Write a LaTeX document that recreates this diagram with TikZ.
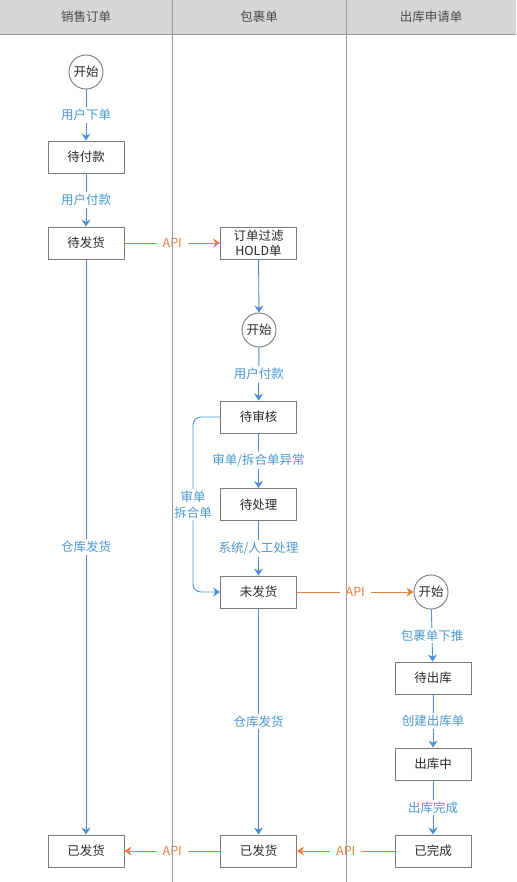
\documentclass[tikz,border=0pt]{standalone}
\usepackage{fontspec}
\setmainfont{Noto Sans CJK SC}
\usetikzlibrary{arrows.meta}
\definecolor{headgray}{HTML}{D6D6D6}
\definecolor{lanegray}{HTML}{9A9A9A}
\definecolor{boxgray}{HTML}{7A7A7A}
\definecolor{flowblue}{HTML}{4A90D6}
\definecolor{lblblue}{HTML}{4A9AD0}
\definecolor{apiorange}{HTML}{E8823A}
\definecolor{txt}{HTML}{2A2A2A}
\begin{document}
\begin{tikzpicture}[x=1pt,y=-1pt,
  box/.style={draw=boxgray,line width=0.9pt,fill=white,minimum width=76pt,minimum height=32pt,inner sep=0pt,font=\fontsize{12.5}{14}\selectfont,text=txt,align=center},
  circ/.style={circle,draw=boxgray,line width=0.9pt,fill=white,minimum size=34pt,inner sep=0pt,font=\fontsize{12.5}{14}\selectfont,text=txt},
  flow/.style={draw=flowblue,line width=0.9pt,-{Stealth[length=7pt,width=9pt]}},
  apiflow/.style={draw=apiorange,line width=0.9pt,-{Stealth[length=7pt,width=9pt]}},
  lbl/.style={fill=white,text=lblblue,inner sep=2pt,font=\fontsize{12.5}{16}\selectfont,align=center},
  apilbl/.style={fill=white,text=apiorange,inner xsep=6pt,inner ysep=2pt,font=\fontsize{12.5}{14}\selectfont},
  head/.style={text=txt!85,font=\fontsize{12.5}{14}\selectfont},
  lane/.style={draw=lanegray,line width=0.9pt}]
\useasboundingbox (0,0) rectangle (516,882);
\fill[headgray] (0,0) rectangle (516,34);
\node[head] (h1) at (86,17) {销售订单};
\node[head] (h2) at (259,17) {包裹单};
\node[head] (h3) at (431,17) {出库申请单};

% column 1
\node[circ] (s1) at (86,72) {开始};
\node[box] (a1) at (86,157) {待付款};
\node[box] (a2) at (86,243) {待发货};
\node[box] (a3) at (86,851) {已发货};
% column 2
\node[box,font=\fontsize{12.5}{15}\selectfont] (b1) at (258.5,243) {订单过滤\\HOLD单};
\node[circ] (s2) at (259,330) {开始};
\node[box] (b2) at (258.5,417) {待审核};
\node[box] (b3) at (258.5,504.5) {待处理};
\node[box] (b4) at (258.5,592) {未发货};
\node[box] (b5) at (258.5,851) {已发货};
% column 3
\node[circ] (s3) at (431,592) {开始};
\node[box] (c1) at (433,678) {待出库};
\node[box] (c2) at (433,764) {出库中};
\node[box] (c3) at (433,851) {已完成};

\coordinate (side) at (193,0);

\draw[flow] (s1) -- node[lbl]{用户下单} (a1);
\draw[flow] (a1) -- node[lbl]{用户付款} (a2);
\draw[flow] (a2) -- node[lbl]{仓库发货} (a3);
\draw[apiflow] (a2) -- node[apilbl]{API} (b1);
\draw[flow] (b1) -- (s2);
\draw[flow] (s2) -- node[lbl]{用户付款} (b2);
\draw[flow] (b2) -- node[lbl]{审单/拆合单异常} (b3);
\draw[flow] (b3) -- node[lbl]{系统/人工处理} (b4);
\draw[flow,rounded corners=8pt] (b2.west) -- (b2.west -| side) -- node[lbl,pos=0.5]{审单\\拆合单} (b4.west -| side) -- (b4.west);
\draw[flow] (b4) -- node[lbl]{仓库发货} (b5);
\draw[apiflow] (b4) -- node[apilbl]{API} (s3);
\draw[flow] (s3) -- node[lbl]{包裹单下推} (c1);
\draw[flow] (c1) -- node[lbl]{创建出库单} (c2);
\draw[flow] (c2) -- node[lbl]{出库完成} (c3);
\draw[apiflow] (c3) -- node[apilbl]{API} (b5);
\draw[apiflow] (b5) -- node[apilbl]{API} (a3);

\draw[lane] (0,34) -- (516,34);
\draw[lane] (172,0) -- (172,882);
\draw[lane] (346,0) -- (346,882);
\end{tikzpicture}
\end{document}
